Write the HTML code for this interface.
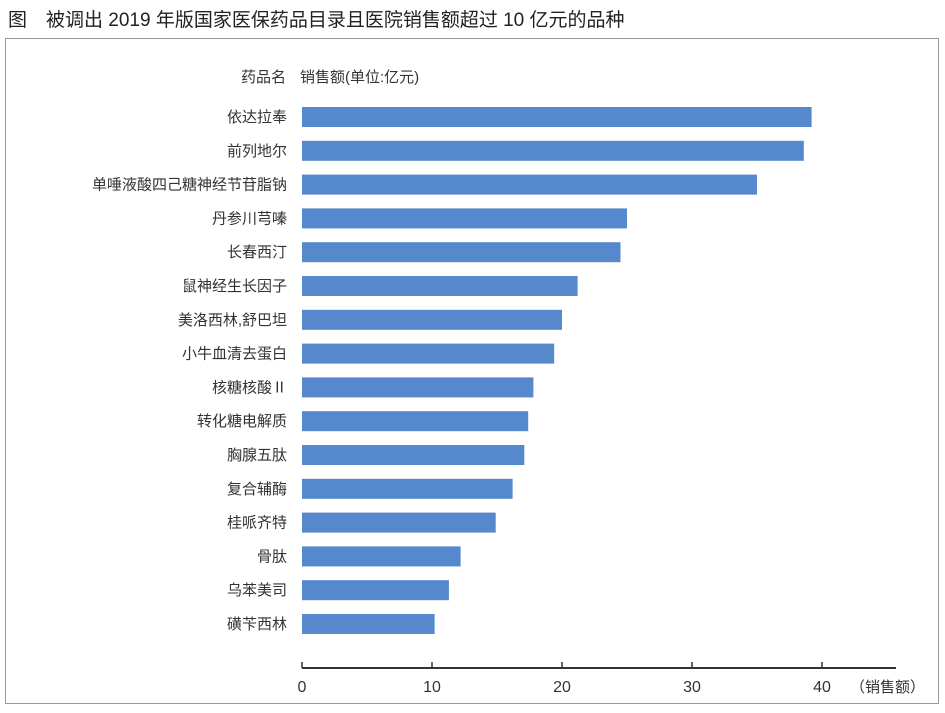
<!DOCTYPE html>
<html><head><meta charset="utf-8"><style>
body{margin:0;background:#fff;width:945px;height:708px;overflow:hidden;font-family:"Liberation Sans","Noto Sans CJK SC",sans-serif;}
svg text{font-family:"Liberation Sans","Noto Sans CJK SC",sans-serif;}
</style></head><body>
<svg width="945" height="708">
<text x="8" y="26" font-size="19" fill="#222">图　被调出 2019 年版国家医保药品目录且医院销售额超过 10 亿元的品种</text>
<rect x="5.5" y="38.5" width="933" height="665" fill="none" stroke="#999"/>
<text x="286" y="82" font-size="15" fill="#333" text-anchor="end">药品名</text>
<text x="300" y="82" font-size="15" fill="#333">销售额(单位:亿元)</text>
<g id="bars"></g>
<g id="axis"></g>
</svg>
<script>
const categories=["依达拉奉","前列地尔","单唾液酸四己糖神经节苷脂钠","丹参川芎嗪","长春西汀","鼠神经生长因子","美洛西林,舒巴坦","小牛血清去蛋白","核糖核酸Ⅱ","转化糖电解质","胸腺五肽","复合辅酶","桂哌齐特","骨肽","乌苯美司","磺苄西林"];
const values=[39.2,38.6,35.0,25.0,24.5,21.2,20.0,19.4,17.8,17.4,17.1,16.2,14.9,12.2,11.3,10.2];
const ticks=[0,10,20,30,40];
const NS="http://www.w3.org/2000/svg";
const x=v=>302+v*13;
const y=i=>117+i*33.8;
const bars=document.getElementById('bars');
categories.forEach((c,i)=>{
 const r=document.createElementNS(NS,'rect');
 r.setAttribute('x',x(0));r.setAttribute('y',y(i)-10);
 r.setAttribute('width',x(values[i])-x(0));r.setAttribute('height',20);
 r.setAttribute('fill','#5588cc');
 
 
 bars.appendChild(r);
 const t=document.createElementNS(NS,'text');
 t.setAttribute('x',287);t.setAttribute('y',y(i)+5);
 t.setAttribute('text-anchor','end');t.setAttribute('font-size','15');t.setAttribute('fill','#333');
 t.textContent=c;
 
 
 bars.appendChild(t);
});
const ax=document.getElementById('axis');
const l=document.createElementNS(NS,'line');
l.setAttribute('x1',x(0));l.setAttribute('x2',896);l.setAttribute('y1',668);l.setAttribute('y2',668);
l.setAttribute('stroke','#333');l.setAttribute('stroke-width','2');


ax.appendChild(l);
ticks.forEach(v=>{
 const tk=document.createElementNS(NS,'line');
 tk.setAttribute('x1',x(v));tk.setAttribute('x2',x(v));tk.setAttribute('y1',662);tk.setAttribute('y2',668);
 tk.setAttribute('stroke','#333');tk.setAttribute('stroke-width','1.5');
 
 
 ax.appendChild(tk);
 const t=document.createElementNS(NS,'text');
 t.setAttribute('x',x(v));t.setAttribute('y',692);t.setAttribute('text-anchor','middle');
 t.setAttribute('font-size','16');t.setAttribute('fill','#333');
 t.textContent=v;
 
 
 ax.appendChild(t);
});
</script>
<svg style="position:absolute;left:0;top:0" width="945" height="708"><text x="850" y="692" font-size="15" fill="#333">（销售额）</text></svg>
</body></html>
